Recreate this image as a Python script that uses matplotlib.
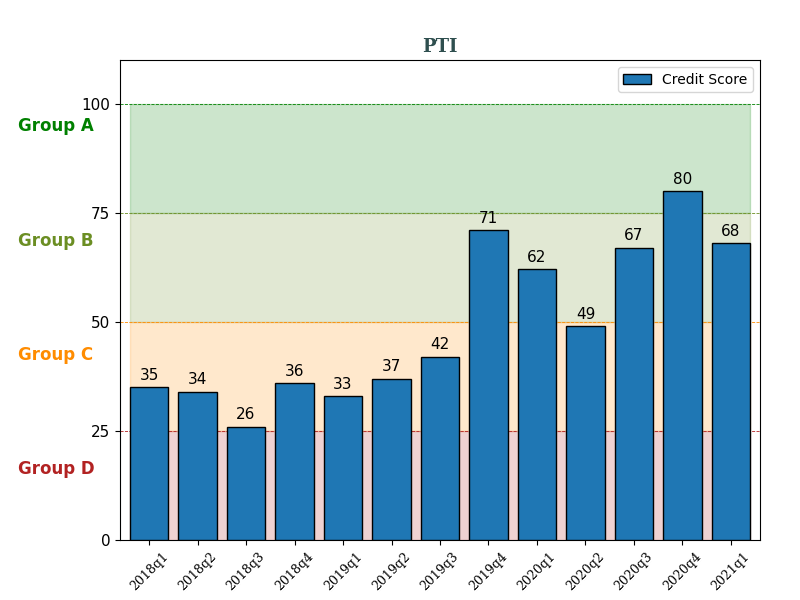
import numpy as np
import matplotlib.pyplot as plt

quarters = ["2018q1", "2018q2", "2018q3", "2018q4", "2019q1", "2019q2", "2019q3",
            "2019q4", "2020q1", "2020q2", "2020q3", "2020q4", "2021q1"]
scores = [35, 34, 26, 36, 33, 37, 42, 71, 62, 49, 67, 80, 68]

group_names = ["Group A", "Group B", "Group C", "Group D"]
group_lo = [75, 50, 25, 0]
group_hi = [100, 75, 50, 25]
group_colors = ["green", "olivedrab", "darkorange", "firebrick"]

fig, ax = plt.subplots(figsize=(8, 6), dpi=100)
fig.subplots_adjust(left=0.15, right=0.95, top=0.9, bottom=0.1)

x = np.arange(len(quarters))
bars = ax.bar(x, scores, 0.8, color="#1f77b4", edgecolor="black", label="Credit Score", zorder=3)
for b, v in zip(bars, scores):
    ax.text(b.get_x() + b.get_width() / 2, v + 1, str(v), ha="center", va="bottom", fontsize=11, zorder=4)

xs = [-0.4, len(quarters) - 0.6]
for name, lo, hi, c in zip(group_names, group_lo, group_hi, group_colors):
    ax.fill_between(xs, lo, hi, color=c, alpha=0.2, zorder=1)
    if hi > 0:
        ax.axhline(hi, color=c, linestyle="--", linewidth=0.6, zorder=2)
    ymid = (lo + hi) / 2 + 3
    yfig = ax.transData.transform((0, ymid))[1]
    fig.text(0.022, ax.transAxes.inverted().transform((0, yfig))[1] * 0.8 + 0.1, name,
             color=c, fontsize=12, fontweight="bold", va="center")

ax.set_xlim(-0.6, len(quarters) - 0.4)
ax.set_ylim(0, 110)
ax.set_yticks([0, 25, 50, 75, 100])
ax.tick_params(axis="y", labelsize=11)
ax.set_xticks(x)
ax.set_xticklabels(quarters, rotation=45, family="serif", fontsize=9)
ax.set_title("PTI", family="serif", fontweight="bold", color="darkslategray", fontsize=13)
ax.legend(loc="upper right")

plt.savefig("out.png")
